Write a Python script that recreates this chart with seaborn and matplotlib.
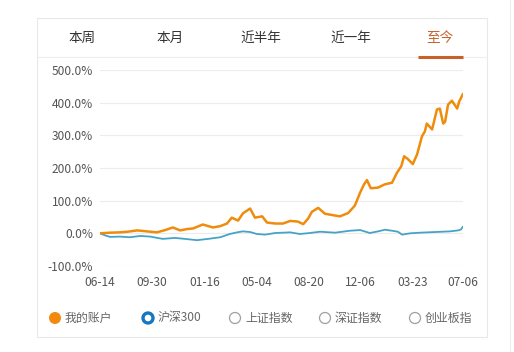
import matplotlib
matplotlib.use('Agg')
import matplotlib.pyplot as plt
import matplotlib.dates as mdates
import numpy as np
import pandas as pd
import seaborn as sns
from matplotlib.patches import Circle, Rectangle
from matplotlib.lines import Line2D

# account return (%)
account_dates = [
    '2020-06-14', '2020-07-05', '2020-07-25', '2020-08-11', '2020-08-30', '2020-09-19',
    '2020-10-10', '2020-10-27', '2020-11-12', '2020-11-27', '2020-12-11', '2020-12-24',
    '2021-01-13', '2021-02-03', '2021-02-18', '2021-03-04', '2021-03-14', '2021-03-27',
    '2021-04-06', '2021-04-21', '2021-05-01', '2021-05-16', '2021-05-26', '2021-06-12',
    '2021-06-28', '2021-07-13', '2021-07-29', '2021-08-09', '2021-08-19', '2021-08-27',
    '2021-09-09', '2021-09-23', '2021-10-08', '2021-10-24', '2021-11-10', '2021-11-24',
    '2021-12-05', '2021-12-13', '2021-12-19', '2021-12-27', '2022-01-11', '2022-01-25',
    '2022-02-09', '2022-02-19', '2022-02-28', '2022-03-06', '2022-03-14', '2022-03-24',
    '2022-04-02', '2022-04-12', '2022-04-18', '2022-04-22', '2022-05-03', '2022-05-13',
    '2022-05-19', '2022-05-26', '2022-05-30', '2022-06-05', '2022-06-13', '2022-06-24',
    '2022-06-28', '2022-07-06',
]
account_values = [
    0, 2, 3, 5, 9, 6,
    3, 10, 18, 9, 13, 15,
    27, 18, 22, 30, 48, 39,
    61, 76, 48, 52, 33, 30,
    30, 38, 36, 28, 45, 66,
    78, 60, 56, 52, 62, 85,
    125, 150, 163, 138, 140, 150,
    155, 185, 205, 236, 227, 212,
    242, 297, 312, 336, 318, 379,
    382, 336, 342, 394, 406, 382,
    403, 427,
]

# CSI 300 return (%)
index_dates = [
    '2020-06-14', '2020-06-24', '2020-07-05', '2020-07-25', '2020-08-15', '2020-09-05',
    '2020-09-26', '2020-10-22', '2020-11-16', '2020-12-07', '2021-01-01', '2021-01-24',
    '2021-02-18', '2021-03-10', '2021-03-25', '2021-04-06', '2021-04-21', '2021-05-05',
    '2021-05-22', '2021-06-12', '2021-07-13', '2021-08-02', '2021-08-23', '2021-09-13',
    '2021-10-14', '2021-11-14', '2021-12-05', '2021-12-25', '2022-01-11', '2022-01-25',
    '2022-02-09', '2022-02-21', '2022-03-02', '2022-03-18', '2022-04-08', '2022-05-09',
    '2022-06-09', '2022-06-26', '2022-07-02', '2022-07-06',
]
index_values = [
    0, -6, -11, -10, -12, -8,
    -10, -17, -14, -17, -21, -17,
    -12, -2, 3, 6, 4, -2,
    -4, 1, 3, -2, 1, 5,
    2, 8, 10, 1, 6, 11,
    8, 5, -4, 0, 2, 4,
    6, 9, 12, 21,
]

tick_dates = ['2020-06-14', '2020-09-30', '2021-01-16', '2021-05-04',
              '2021-08-20', '2021-12-06', '2022-03-23', '2022-07-06']
y_ticks = [-100, 0, 100, 200, 300, 400, 500]
tabs = ['本周', '本月', '近半年', '近一年', '至今']
legend_labels = ['我的账户', '沪深300', '上证指数', '深证指数', '创业板指']

acc = pd.DataFrame({'date': pd.to_datetime(account_dates), 'value': account_values})
idx = pd.DataFrame({'date': pd.to_datetime(index_dates), 'value': index_values})

sns.set_style('white')
plt.rcParams['font.family'] = ['Noto Sans CJK SC', 'DejaVu Sans']

W, H = 514, 352
fig = plt.figure(figsize=(W / 100, H / 100), dpi=100)

# overlay in pixel coordinates for card, tabs and legend
bg = fig.add_axes([0, 0, 1, 1])
bg.set_xlim(0, W)
bg.set_ylim(H, 0)
bg.axis('off')
bg.add_patch(Rectangle((37, 18), 450, 319, fill=False, edgecolor='#e8e8e8', lw=0.8))
bg.plot([37, 487], [57, 57], color='#eeeeee', lw=0.8)
bg.plot([510, 510], [0, H], color='#eeeeee', lw=0.8)
bg.plot([418, 463], [57, 57], color='#c8602a', lw=2.2, solid_capstyle='butt')
tab_x = [82, 170, 261, 351, 440]
for i, (t, x) in enumerate(zip(tabs, tab_x)):
    bg.text(x, 38, t, ha='center', va='center', fontsize=9.8,
            color='#c8602a' if i == 4 else '#333333')

marker_x = [55, 148, 235, 325, 415]
for i, (lab, x) in enumerate(zip(legend_labels, marker_x)):
    if i == 0:
        bg.add_patch(Circle((x, 318), 6, facecolor='#f28a0d', edgecolor='none'))
    elif i == 1:
        bg.add_patch(Circle((x, 318), 5, facecolor='white', edgecolor='#1677c0', lw=2.4))
    else:
        bg.add_patch(Circle((x, 318), 5.5, facecolor='white', edgecolor='#a0a0a0', lw=0.9))
    bg.text(x + 10, 318, lab, ha='left', va='center', fontsize=8.6, color='#666666')

# main chart
ax = fig.add_axes([100 / W, 1 - 266 / H, 363 / W, 196 / H])
ax.patch.set_alpha(0)
sns.lineplot(data=idx, x='date', y='value', ax=ax, color='#45a4c6', lw=1.3)
sns.lineplot(data=acc, x='date', y='value', ax=ax, color='#f08c0c', lw=1.8)

ax.set_ylim(-100, 500)
ax.set_xlim(pd.Timestamp(tick_dates[0]), pd.Timestamp(tick_dates[-1]))
ax.set_yticks(y_ticks)
ax.set_yticklabels([f'{v:.1f}%' for v in y_ticks])
ax.set_xticks(pd.to_datetime(tick_dates))
ax.xaxis.set_major_formatter(mdates.DateFormatter('%m-%d'))
ax.grid(axis='y', color='#ececec', lw=0.8)
ax.grid(axis='x', visible=False)
for s in ax.spines.values():
    s.set_visible(False)
ax.tick_params(axis='both', length=0, labelsize=8.6, colors='#555555')
ax.tick_params(axis='x', pad=7)
ax.tick_params(axis='y', pad=5)
ax.set_xlabel('')
ax.set_ylabel('')
ax.set_axisbelow(True)

fig.savefig('out.png', dpi=100, facecolor='white')
